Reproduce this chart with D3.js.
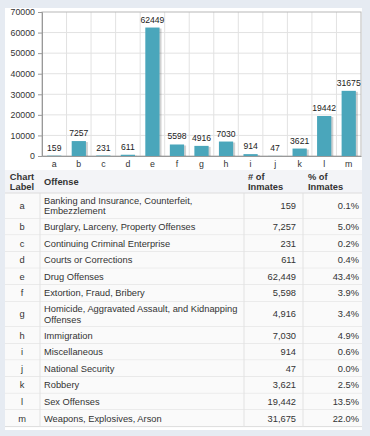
<!DOCTYPE html>
<html lang="en">
<head>
  <meta charset="UTF-8">
  <title>Inmates by Offense</title>
  <style>
    body {
      margin: 0;
      padding: 0;
      background-color: #e9edf3;
      font-family: "Liberation Sans", Arial, sans-serif;
    }
    svg { display: block; }
    .tick-label { font-size: 8.8px; fill: #333; }
    .bar-label { font-size: 8.6px; fill: #222; }
    .cell { font-size: 9.3px; fill: #333; }
    .head { font-size: 9.3px; font-weight: bold; fill: #333; }
  </style>
</head>
<body>
  <div id="chart"></div>

  <script src="https://d3js.org/d3.v7.min.js"></script>
  <script>
    const labels = ["a", "b", "c", "d", "e", "f", "g", "h", "i", "j", "k", "l", "m"];
    const offenses = [
      "Banking and Insurance, Counterfeit, Embezzlement",
      "Burglary, Larceny, Property Offenses",
      "Continuing Criminal Enterprise",
      "Courts or Corrections",
      "Drug Offenses",
      "Extortion, Fraud, Bribery",
      "Homicide, Aggravated Assault, and Kidnapping Offenses",
      "Immigration",
      "Miscellaneous",
      "National Security",
      "Robbery",
      "Sex Offenses",
      "Weapons, Explosives, Arson"
    ];
    const inmates = [159, 7257, 231, 611, 62449, 5598, 4916, 7030, 914, 47, 3621, 19442, 31675];
    const percents = ["0.1%", "5.0%", "0.2%", "0.4%", "43.4%", "3.9%", "3.4%", "4.9%", "0.6%", "0.0%", "2.5%", "13.5%", "22.0%"];
    const yTicks = [0, 10000, 20000, 30000, 40000, 50000, 60000, 70000];

    const W = 370, H = 436;
    const svg = d3.select("#chart").append("svg")
      .attr("width", W)
      .attr("height", H);

    // page panels
    svg.append("rect").attr("x", 0).attr("y", 0).attr("width", W).attr("height", H).attr("fill", "#e6ebf2");
    svg.append("rect").attr("x", 5).attr("y", 8).attr("width", 357).attr("height", 422).attr("fill", "#ffffff");

    // chart area
    const plot = { left: 42, right: 361, top: 12, bottom: 156 };

    const x = d3.scaleBand()
      .domain(labels)
      .range([plot.left, plot.right])
      .paddingInner(0.42)
      .paddingOuter(0.21);

    const y = d3.scaleLinear()
      .domain([0, 70000])
      .range([plot.bottom, plot.top]);

    // grid
    const step = (plot.right - plot.left) / labels.length;
    svg.append("g")
      .selectAll("line")
      .data(labels.slice(1))
      .join("line")
        .attr("x1", (d, i) => plot.left + step * (i + 1))
        .attr("x2", (d, i) => plot.left + step * (i + 1))
        .attr("y1", plot.top)
        .attr("y2", plot.bottom)
        .attr("stroke", "#e2e2e2");

    svg.append("g")
      .selectAll("line")
      .data(yTicks.slice(1, -1))
      .join("line")
        .attr("x1", plot.left)
        .attr("x2", plot.right)
        .attr("y1", d => y(d))
        .attr("y2", d => y(d))
        .attr("stroke", "#e2e2e2");

    svg.append("rect")
      .attr("x", plot.left)
      .attr("y", plot.top)
      .attr("width", plot.right - plot.left)
      .attr("height", plot.bottom - plot.top)
      .attr("fill", "none")
      .attr("stroke", "#b8b8b8");

    // y axis
    const yAxis = svg.append("g")
      .attr("transform", `translate(${plot.left},0)`)
      .call(d3.axisLeft(y).tickValues(yTicks).tickSize(4).tickPadding(3).tickFormat(d3.format("d")));
    yAxis.select(".domain").attr("stroke", "#999");
    yAxis.selectAll(".tick line").attr("stroke", "#999");
    yAxis.selectAll(".tick text").attr("class", "tick-label").attr("fill", null).attr("font-family", null).attr("font-size", null);

    // x axis
    const xAxis = svg.append("g")
      .attr("transform", `translate(0,${plot.bottom})`)
      .call(d3.axisBottom(x).tickSize(0).tickPadding(5));
    xAxis.select(".domain").attr("stroke", "#999");
    xAxis.selectAll(".tick text").attr("class", "tick-label").attr("fill", null).attr("font-family", null).attr("font-size", null);

    // bars with shadow
    const data = labels.map((l, i) => ({ label: l, value: inmates[i] }));

    svg.append("g")
      .selectAll("rect")
      .data(data)
      .join("rect")
        .attr("x", d => x(d.label) + 2)
        .attr("y", d => y(d.value) + 1)
        .attr("width", x.bandwidth())
        .attr("height", d => plot.bottom - y(d.value) - 1)
        .attr("fill", "rgba(0,0,0,0.18)");

    svg.append("g")
      .selectAll("rect")
      .data(data)
      .join("rect")
        .attr("x", d => x(d.label))
        .attr("y", d => y(d.value))
        .attr("width", x.bandwidth())
        .attr("height", d => plot.bottom - y(d.value))
        .attr("fill", "#4aa6bb");

    svg.append("g")
      .selectAll("text")
      .data(data)
      .join("text")
        .attr("class", "bar-label")
        .attr("text-anchor", "middle")
        .attr("x", d => x(d.label) + x.bandwidth() / 2)
        .attr("y", d => y(d.value) - 5)
        .text(d => d.value);

    // table
    const col = { label: 5, offense: 40, num: 244, pct: 303, end: 362 };
    const headTop = 170, headBottom = 193;
    const lineH = 10.5;

    const table = svg.append("g");
    table.append("rect")
      .attr("x", col.label).attr("y", headTop)
      .attr("width", col.end - col.label).attr("height", headBottom - headTop)
      .attr("fill", "#f3f4f7");

    function wrap(text, width) {
      const words = text.split(" ");
      const lines = [];
      let cur = "";
      const probe = svg.append("text").attr("class", "cell");
      words.forEach(w => {
        const test = cur ? cur + " " + w : w;
        probe.text(test);
        if (probe.node().getComputedTextLength() > width && cur) {
          lines.push(cur);
          cur = w;
        } else {
          cur = test;
        }
      });
      lines.push(cur);
      probe.remove();
      return lines;
    }

    const rows = labels.map((l, i) => ({
      label: l,
      lines: wrap(offenses[i], 198),
      num: d3.format(",")(inmates[i]),
      pct: percents[i]
    }));
    let yy = headBottom;
    rows.forEach(r => {
      r.top = yy;
      r.h = r.lines.length > 1 ? 25.5 : 16.6;
      yy += r.h;
    });

    const rowG = table.selectAll("g.row")
      .data(rows)
      .join("g")
        .attr("class", "row");

    rowG.append("rect")
      .attr("x", col.label).attr("y", d => d.top)
      .attr("width", col.end - col.label).attr("height", d => d.h)
      .attr("fill", "#fafafa");

    rowG.append("line")
      .attr("x1", col.label).attr("x2", col.end)
      .attr("y1", d => d.top + d.h).attr("y2", d => d.top + d.h)
      .attr("stroke", "#dcdcdc");

    rowG.append("text")
      .attr("class", "cell")
      .attr("text-anchor", "middle")
      .attr("x", 22)
      .attr("y", d => d.top + d.h / 2 + 3.2)
      .text(d => d.label);

    rowG.append("text")
      .attr("class", "cell")
      .attr("x", col.offense + 4)
      .attr("y", d => d.top + d.h / 2 + 3.2 - (d.lines.length - 1) * lineH / 2)
      .selectAll("tspan")
      .data(d => d.lines)
      .join("tspan")
        .attr("x", col.offense + 4)
        .attr("dy", (d, i) => i === 0 ? 0 : lineH)
        .text(d => d);

    rowG.append("text")
      .attr("class", "cell")
      .attr("text-anchor", "end")
      .attr("x", col.pct - 7)
      .attr("y", d => d.top + d.h / 2 + 3.2)
      .text(d => d.num);

    rowG.append("text")
      .attr("class", "cell")
      .attr("text-anchor", "end")
      .attr("x", col.end - 3)
      .attr("y", d => d.top + d.h / 2 + 3.2)
      .text(d => d.pct);

    // column dividers
    table.selectAll("line.vdiv")
      .data([col.offense, col.num, col.pct])
      .join("line")
        .attr("class", "vdiv")
        .attr("x1", d => d).attr("x2", d => d)
        .attr("y1", headBottom).attr("y2", yy)
        .attr("stroke", "#e2e2e2");
    table.append("line")
      .attr("x1", col.label).attr("x2", col.end)
      .attr("y1", headBottom).attr("y2", headBottom)
      .attr("stroke", "#dcdcdc");

    // headers
    const heads = [
      { x: 22, anchor: "middle", lines: ["Chart", "Label"] },
      { x: col.offense + 4, anchor: "start", lines: ["Offense"] },
      { x: col.num + 4, anchor: "start", lines: ["# of", "Inmates"] },
      { x: col.pct + 5, anchor: "start", lines: ["% of", "Inmates"] }
    ];
    heads.forEach(h => {
      const t = table.append("text")
        .attr("class", "head")
        .attr("text-anchor", h.anchor)
        .attr("y", (headTop + headBottom) / 2 + 3.5 - (h.lines.length - 1) * lineH / 2);
      h.lines.forEach((ln, i) => {
        t.append("tspan").attr("x", h.x).attr("dy", i === 0 ? 0 : lineH).text(ln);
      });
    });
  </script>
</body>
</html>
